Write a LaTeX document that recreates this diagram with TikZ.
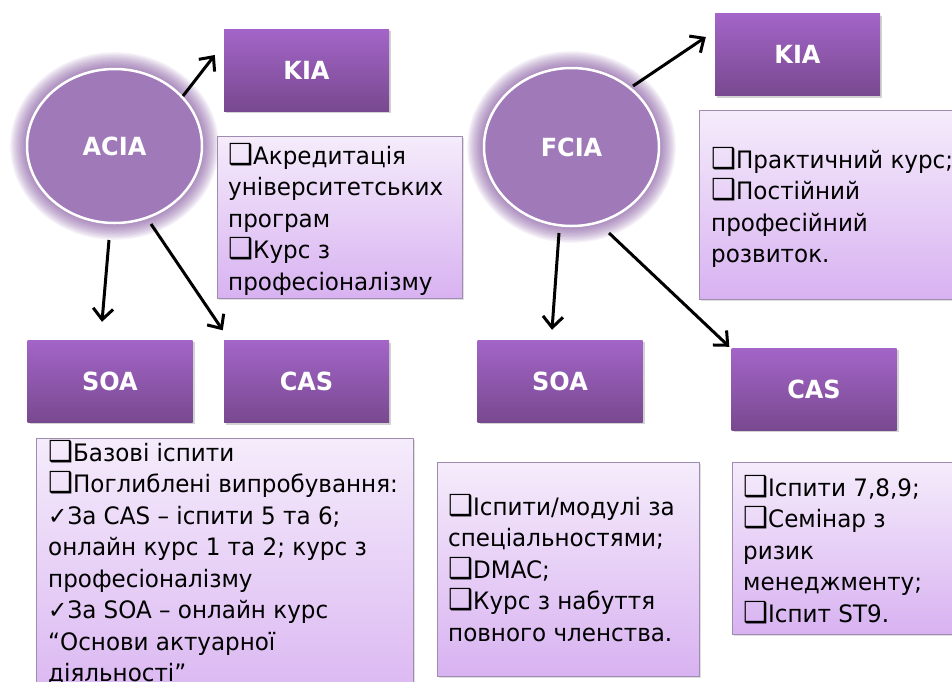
\documentclass[tikz,border=0pt]{standalone}
\usepackage{fontspec}
\setmainfont{DejaVu Sans}[FakeStretch=0.96]
\usetikzlibrary{shapes.geometric,shadows,arrows.meta,calc}
\definecolor{circfill}{RGB}{160,121,184}
\definecolor{glowc}{RGB}{125,75,155}
\definecolor{boxtop}{RGB}{163,101,200}
\definecolor{boxbot}{RGB}{120,73,143}
\definecolor{txttop}{RGB}{245,236,251}
\definecolor{txtbot}{RGB}{216,178,241}
\definecolor{txtborder}{RGB}{160,140,175}
\tikzset{
  org/.style={ellipse, minimum width=175, minimum height=154, inner sep=0pt,
    fill=circfill, draw=white, line width=2.5pt, text=white,
    font=\fontsize{25}{28}\selectfont\bfseries},
  titlebox/.style={rectangle, minimum width=165, minimum height=82, inner sep=0pt,
    top color=boxtop, bottom color=boxbot, text=white,
    font=\fontsize{25}{28}\selectfont\bfseries,
    drop shadow={opacity=0.35,shadow xshift=2pt,shadow yshift=-2pt}},
  infobox/.style={rectangle, inner sep=0pt, draw=txtborder, line width=0.8pt,
    top color=txttop, bottom color=txtbot,
    drop shadow={opacity=0.25,shadow xshift=1.5pt,shadow yshift=-1.5pt}},
  infotext/.style={anchor=north west, inner sep=0pt, align=left,
    font=\fontsize{24}{31.5}\selectfont},
  arr/.style={line width=3pt, -{Straight Barb[length=11pt,width=20pt]}},
  glow/.style={fill=glowc, opacity=0.075}
}
\newcommand{\fl}{\rule{0pt}{22pt}}
\newcommand{\bx}{{\fontsize{29}{31.5}\selectfont ❑}}
\begin{document}
\begin{tikzpicture}[x=1pt,y=-1pt]
\clip (0,0) rectangle (952,681);
\fill[white] (0,0) rectangle (952,681);
% glows
\coordinate (ac) at (114.5,146);
\coordinate (fc) at (571.5,147);
\foreach \i in {1,...,12} {
  \fill[glow] (ac) ellipse [x radius=87.5+\i*1.4, y radius=77+\i*1.4];
  \fill[glow] (fc) ellipse [x radius=87.5+\i*1.4, y radius=79+\i*1.4];
}
% circles
\node[org] (acia) at (ac) {ACIA};
\node[org, minimum height=158] (fcia) at (fc) {FCIA};
% title boxes
\node[titlebox] (kia1) at (306.5,70) {KIA};
\node[titlebox] (soa1) at (110,381) {SOA};
\node[titlebox] (cas1) at (306.5,381.5) {CAS};
\node[titlebox] (kia2) at (797.5,54.5) {KIA};
\node[titlebox] (soa2) at (560,381) {SOA};
\node[titlebox] (cas2) at (814,389) {CAS};
% info boxes
\node[infobox, minimum width=245, minimum height=162] (b1) at (339.5,217) {};
\node[infobox, minimum width=377, minimum height=282] (b2) at (224.5,579) {};
\node[infobox, minimum width=256, minimum height=189] (b3) at (827,204.5) {};
\node[infobox, minimum width=262, minimum height=214] (b4) at (568,569) {};
\node[infobox, minimum width=223, minimum height=172] (b5) at (843.5,548) {};
% texts
\node[infotext] (t1) at (228,142) {\fl\bx Акредитація\\університетських\\програм\\\bx Курс з\\професіоналізму};
\node[infotext] (t2) at (48,439) {\fl\bx Базові іспити\\\bx Поглиблені випробування:\\✓За CAS – іспити 5 та 6;\\онлайн курс 1 та 2; курс з\\професіоналізму\\✓За SOA – онлайн курс\\“Основи актуарної\\діяльності”};
\node[infotext] (t3) at (711,146) {\fl\bx Практичний курс;\\\bx Постійний\\професійний\\розвиток.};
\node[infotext] (t4) at (448,493) {\fl\bx Іспити/модулі за\\спеціальностями;\\\bx DMAC;\\\bx Курс з набуття\\повного членства.};
\node[infotext] (t5) at (743,474) {\fl\bx Іспити 7,8,9;\\\bx Семінар з\\ризик\\менеджменту;\\\bx Іспит ST9.};
% arrow ends
\coordinate (a1s) at ($(acia.center)+(68.5,-50)$);
\coordinate (a1e) at ($(kia1.west)+(-9,-15)$);
\coordinate (a2s) at ($(acia.center)+(-5.5,94)$);
\coordinate (a2e) at ($(soa1.north)+(-8,-18)$);
\coordinate (a3s) at ($(acia.center)+(36.5,78)$);
\coordinate (a3e) at ($(cas1.north west)+(-1,-10)$);
\coordinate (a4s) at ($(fcia.center)+(61.5,-61)$);
\coordinate (a4e) at ($(kia2.west)+(-9,-17.5)$);
\coordinate (a5s) at ($(fcia.center)+(-12.5,86)$);
\coordinate (a5e) at ($(soa2.north)+(-8,-10)$);
\coordinate (a6s) at ($(fcia.center)+(37.5,86)$);
\coordinate (a6e) at ($(cas2.north west)+(-2,-1)$);
\draw[arr] (a1s) -- (a1e);
\draw[arr] (a2s) -- (a2e);
\draw[arr] (a3s) -- (a3e);
\draw[arr] (a4s) -- (a4e);
\draw[arr] (a5s) -- (a5e);
\draw[arr] (a6s) -- (a6e);
\end{tikzpicture}
\end{document}
